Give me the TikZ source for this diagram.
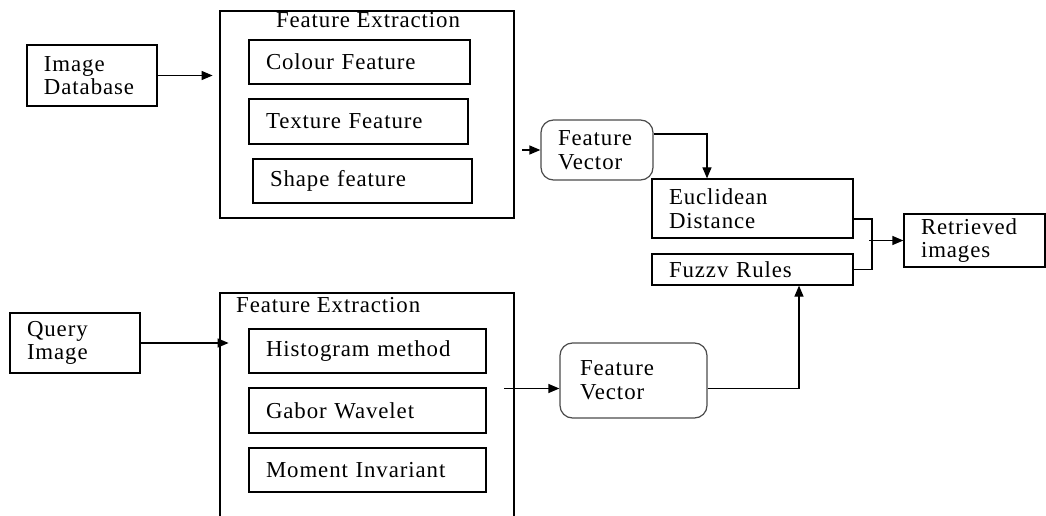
\documentclass[tikz,border=0pt]{standalone}
\usepackage{fontspec}
\setmainfont{Liberation Serif}[LetterSpace=4]
\usetikzlibrary{positioning,calc,arrows.meta}

\begin{document}
\begin{tikzpicture}[x=0.2mm, y=-0.2mm,
  every node/.style={font=\fontsize{13}{13.5}\selectfont},
  blk/.style={draw, line width=0.7pt, inner xsep=3.4mm, inner ysep=0pt, align=left},
  vec/.style={blk, draw=black!70, rounded corners=2.5mm},
  frame/.style={draw, line width=0.7pt, inner sep=0pt},
  arr/.style={line width=0.7pt, -{Triangle[length=2.2mm,width=1.8mm]}},
  lnk/.style={line width=0.7pt}]
  \useasboundingbox (0,0) rectangle (1046,516);
  \clip (0,0) rectangle (1046,516);

  % database side
  \node[blk, minimum width=26mm, minimum height=12.2mm, text width=19.2mm] (imgdb) at (92,75.5) {Image\\Database};
  \node[frame, minimum width=58.8mm, minimum height=41.4mm] (fe1) at (367,114.5) {};
  \node[anchor=base] (fe1t) at (368,28) {Feature Extraction};
  \node[blk, minimum width=44.2mm, minimum height=8.8mm, text width=37.4mm] (colour) at (359.5,62) {Colour Feature};
  \node[blk, minimum width=43.8mm, minimum height=9mm, text width=37mm] (texture) at (358.5,121.5) {Texture Feature};
  \node[blk, minimum width=43.8mm, minimum height=8.8mm, text width=37mm] (shape) at (362.5,181) {Shape feature};
  \node[vec, minimum width=22.4mm, minimum height=12mm, text width=15.6mm] (fv1) at (597,150) {Feature\\Vector};

  % matching
  \node[blk, minimum width=40.2mm, minimum height=11.8mm, text width=33.4mm] (eucl) at (752.5,208.5) {Euclidean\\Distance};
  \node[blk, minimum width=40.2mm, minimum height=6.2mm, text width=33.4mm] (fuzzy) at (752.5,269.5) {Fuzzv Rules};
  \node[blk, minimum width=28.2mm, minimum height=10.6mm, text width=21.4mm] (retr) at (974.5,240.5) {Retrieved\\images};

  % query side
  \node[blk, minimum width=26mm, minimum height=12mm, text width=19.2mm] (query) at (75,343) {Query\\Image};
  \node[frame, minimum width=58.8mm, minimum height=53.4mm] (fe2) at (367,426.5) {};
  \node[anchor=base west] (fe2t) at (230,312) {Feature Extraction};
  \node[blk, minimum width=47.4mm, minimum height=8.8mm, text width=40.6mm] (hist) at (367.5,351) {Histogram method};
  \node[blk, minimum width=47.4mm, minimum height=9mm, text width=40.6mm] (gabor) at (367.5,410.5) {Gabor Wavelet};
  \node[blk, minimum width=47.4mm, minimum height=8.8mm, text width=40.6mm] (moment) at (367.5,470) {Moment Invariant};
  \node[vec, minimum width=29.4mm, minimum height=15mm, text width=21.4mm] (fv2) at (633.5,380.5) {Feature\\Vector};

  % connectors
  \coordinate (dbtip) at ($(imgdb.east)+(55,0)$);
  \coordinate (fv1in) at ($(fv1.west)+(-18,0)$);
  \coordinate (jn) at (872,240.5);
  \coordinate (qtip) at ($(query.east)+(88,0)$);
  \coordinate (fv2in) at (504,388.5);
  \draw[arr] (imgdb.east) -- (dbtip);
  \draw[arr] (fv1in) -- (fv1.west);
  \draw[arr] ($(fv1.east)+(0,-16)$) -| ($(eucl.north)+(-45.5,0)$);
  \draw[lnk] ($(eucl.east)+(0,10.5)$) -| (jn) |- (fuzzy.east);
  \draw[arr] ($(jn)+(-3,0)$) -- (retr.west);
  \draw[arr] (query.east) -- (qtip);
  \draw[arr] (fv2in) -- (fv2in -| fv2.west);
  \draw[arr] ($(fv2.east)+(0,8)$) -| ($(fuzzy.south)+(46.5,0)$);
\end{tikzpicture}
\end{document}
